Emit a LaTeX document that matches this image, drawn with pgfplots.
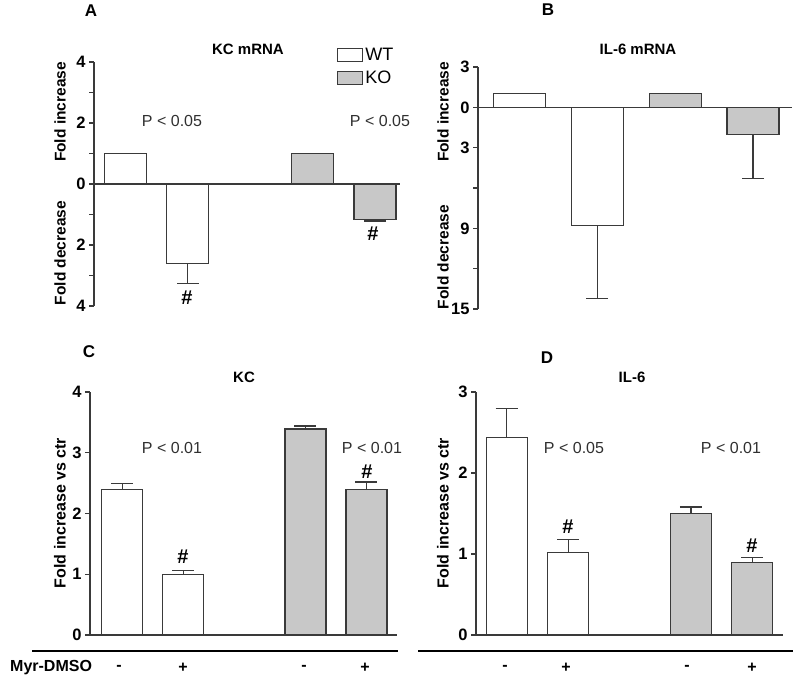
\documentclass[border=0pt]{standalone}
\usepackage{fontspec}
\setmainfont{Liberation Sans}
\usepackage{pgfplots}
\pgfplotsset{compat=1.18}
\definecolor{edge}{HTML}{3A3A3A}
\definecolor{kofill}{HTML}{C8C8C8}
\definecolor{ptext}{HTML}{303030}
\newcommand\fs[1]{\fontsize{#1}{#1}\selectfont}
\pgfplotsset{
  panel/.style={
    scale only axis, anchor=south west, clip=false,
    ybar,
    xtick=\empty,
    axis line style={-, edge, line width=1.2pt},
    tick style={edge, line width=1.2pt},
    major tick length=5pt, minor tick length=5pt,
    tick align=outside,
    ytick pos=left,
    /pgf/number format/assume math mode=true,
    yticklabel style={font=\bfseries\fs{16.5}, text=black},
    error bars/y dir=both, error bars/y explicit,
    error bars/error bar style={edge, line width=1.2pt},
    error bars/error mark options={edge, line width=1.2pt, mark size=11pt, rotate=90},
  },
  wt/.style={fill=white, draw=edge, line width=1.2pt, bar shift=0pt},
  ko/.style={fill=kofill, draw=edge, line width=1.2pt, bar shift=0pt},
}
\begin{document}
\begin{tikzpicture}
\path[use as bounding box] (0,0) rectangle (800pt,-683pt);

% ---------- Panel A ----------
\begin{axis}[panel, at={(94pt,-306pt)}, width=306pt, height=244pt,
  xmin=-0.5, xmax=4.4, ymin=-4, ymax=4,
  ytick={-4,-2,0,2,4}, yticklabels={4,2,0,2,4}, minor ytick={-3,-1,1,3},
  axis x line*=middle, axis y line*=left, bar width=42pt,
  legend style={draw=none, fill=none, at={(0.794,1.065)}, anchor=north west,
    inner sep=0pt, row sep=5pt, font=\fs{18}},
  legend cell align=left]
\addplot[wt, legend image code/.code={\draw[draw=edge,fill=white,line width=1.2pt] (0pt,-6.5pt) rectangle (25pt,6.5pt);}]
  table[x=x, y=y, y error plus=ep, y error minus=em] {
x y ep em
0 1 0 0
1 -2.6 0 0.65
};
\addplot[ko, legend image code/.code={\draw[draw=edge,fill=kofill,line width=1.2pt] (0pt,-6.5pt) rectangle (25pt,6.5pt);}]
  table[x=x, y=y, y error plus=ep, y error minus=em] {
x y ep em
3 1 0 0
4 -1.16 0 0.05
};
\legend{WT,KO}
\end{axis}

% ---------- Panel B ----------
\begin{axis}[panel, at={(478pt,-309pt)}, width=314pt, height=242pt,
  xmin=-0.53, xmax=3.5, ymin=-15, ymax=3,
  ytick={-15,-9,-3,0,3}, yticklabels={15,9,3,0,3}, minor ytick={-12,-6},
  axis x line*=middle, axis y line*=left, bar width=52pt]
\addplot[wt] table[x=x, y=y, y error plus=ep, y error minus=em] {
x y ep em
0 1 0 0
1 -8.8 0 5.4
};
\addplot[ko] table[x=x, y=y, y error plus=ep, y error minus=em] {
x y ep em
2 1 0 0
3 -2.0 0 3.3
};
\end{axis}

% ---------- Panel C ----------
\begin{axis}[panel, at={(90pt,-635pt)}, width=307pt, height=243pt,
  xmin=-0.53, xmax=4.5, ymin=0, ymax=4,
  ytick={0,1,2,3,4},
  axis x line*=bottom, axis y line*=left, bar width=41pt]
\addplot[wt] table[x=x, y=y, y error plus=ep, y error minus=em] {
x y ep em
0 2.4 0.10 0
1 1.0 0.06 0
};
\addplot[ko] table[x=x, y=y, y error plus=ep, y error minus=em] {
x y ep em
3 3.39 0.05 0
4 2.4 0.12 0
};
\end{axis}

% ---------- Panel D ----------
\begin{axis}[panel, at={(476pt,-635pt)}, width=307pt, height=243pt,
  xmin=-0.5, xmax=4.5, ymin=0, ymax=3,
  ytick={0,1,2,3},
  axis x line*=bottom, axis y line*=left, bar width=41pt]
\addplot[wt] table[x=x, y=y, y error plus=ep, y error minus=em] {
x y ep em
0 2.44 0.36 0
1 1.02 0.16 0
};
\addplot[ko] table[x=x, y=y, y error plus=ep, y error minus=em] {
x y ep em
3 1.5 0.08 0
4 0.9 0.06 0
};
\end{axis}

% ---------- Panel letters and titles ----------
\begin{scope}[every node/.style={inner sep=0pt}]
\node[font=\bfseries\fs{17}] at (91pt,-11pt) {A};
\node[font=\bfseries\fs{17}] at (548pt,-10pt) {B};
\node[font=\bfseries\fs{17}] at (89pt,-352pt) {C};
\node[font=\bfseries\fs{17}] at (547pt,-358pt) {D};
\node[font=\bfseries\fs{15}] at (248pt,-49pt) {KC mRNA};
\node[font=\bfseries\fs{15}] at (638pt,-49pt) {IL-6 mRNA};
\node[font=\bfseries\fs{15}] at (244pt,-377pt) {KC};
\node[font=\bfseries\fs{15}] at (632pt,-377pt) {IL-6};
% y labels
\node[font=\bfseries\fs{15.5}, rotate=90] at (60pt,-112pt) {Fold increase};
\node[font=\bfseries\fs{15.5}, rotate=90] at (60pt,-253pt) {Fold decrease};
\node[font=\bfseries\fs{15.5}, rotate=90] at (443pt,-112pt) {Fold increase};
\node[font=\bfseries\fs{15.5}, rotate=90] at (443pt,-257pt) {Fold decrease};
\node[font=\bfseries\fs{16}, rotate=90] at (60pt,-513pt) {Fold increase vs ctr};
\node[font=\bfseries\fs{16}, rotate=90] at (443pt,-513pt) {Fold increase vs ctr};
% P values
\node[font=\fs{16}, text=ptext] at (172pt,-121pt) {P < 0.05};
\node[font=\fs{16}, text=ptext] at (380pt,-121pt) {P < 0.05};
\node[font=\fs{16}, text=ptext] at (172pt,-448pt) {P < 0.01};
\node[font=\fs{16}, text=ptext] at (372pt,-448pt) {P < 0.01};
\node[font=\fs{16}, text=ptext] at (574pt,-448pt) {P < 0.05};
\node[font=\fs{16}, text=ptext] at (731pt,-448pt) {P < 0.01};
% significance marks
\node[font=\bfseries\fs{20}] at (187pt,-298pt) {\#};
\node[font=\bfseries\fs{20}] at (373pt,-234pt) {\#};
\node[font=\bfseries\fs{20}] at (183pt,-557pt) {\#};
\node[font=\bfseries\fs{20}] at (367pt,-472pt) {\#};
\node[font=\bfseries\fs{20}] at (568pt,-527pt) {\#};
\node[font=\bfseries\fs{20}] at (752pt,-546pt) {\#};
% treatment row
\draw[line width=2pt] (32pt,-651pt) -- (398pt,-651pt);
\draw[line width=2pt] (418pt,-651pt) -- (793pt,-651pt);
\node[font=\bfseries\fs{16}, anchor=west] at (10pt,-668pt) {Myr-DMSO};
\node[font=\bfseries\fs{16}] at (119pt,-668pt) {-};
\node[font=\bfseries\fs{16}] at (183pt,-668pt) {+};
\node[font=\bfseries\fs{16}] at (304pt,-668pt) {-};
\node[font=\bfseries\fs{16}] at (365pt,-668pt) {+};
\node[font=\bfseries\fs{16}] at (505pt,-668pt) {-};
\node[font=\bfseries\fs{16}] at (566pt,-668pt) {+};
\node[font=\bfseries\fs{16}] at (687pt,-668pt) {-};
\node[font=\bfseries\fs{16}] at (752pt,-668pt) {+};
\end{scope}
\end{tikzpicture}
\end{document}
